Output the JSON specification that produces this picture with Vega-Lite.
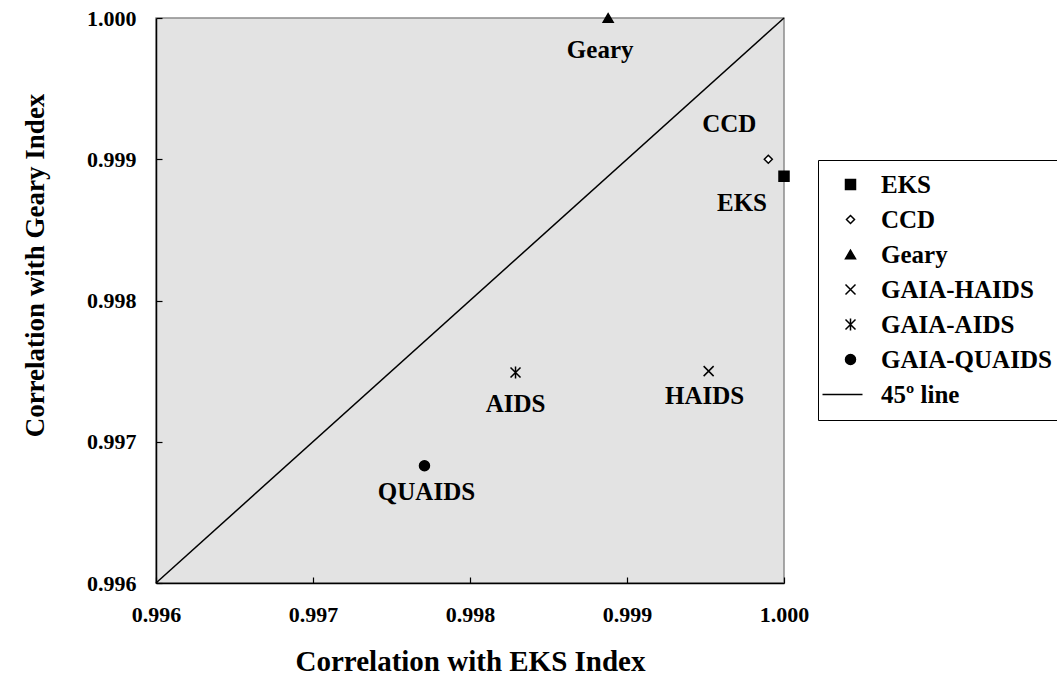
{
  "$schema": "https://vega.github.io/schema/vega-lite/v6.json",
  "width": 628,
  "height": 565,
  "autosize": "none",
  "padding": {"left": 156, "top": 18, "right": 273, "bottom": 94},
  "background": "white",
  "config": {
    "view": {"fill": "#e3e3e3", "stroke": "#8c8c8c", "strokeWidth": 1.5},
    "font": "Liberation Serif",
    "axis": {
      "labelFont": "Liberation Serif", "labelFontWeight": "bold", "labelFontSize": 22, "labelColor": "black",
      "titleFont": "Liberation Serif", "titleFontWeight": "bold", "titleColor": "black",
      "domainColor": "black", "domainWidth": 1.5, "tickColor": "black", "tickWidth": 1.2, "grid": false
    },
    "legend": {
      "title": null, "orient": "none", "legendX": 662, "legendY": 142, "strokeColor": "black", "fillColor": "white", "padding": 12,
      "labelFont": "Liberation Serif", "labelFontWeight": "bold", "labelFontSize": 25, "labelColor": "black", "labelLimit": 400,
      "symbolSize": 100, "symbolStrokeWidth": 1.5, "symbolStrokeColor": "black", "rowPadding": 9, "labelOffset": 18, "symbolOffset": 8
    }
  },
  "datasets": {
    "diag": [{"ex": 0.996, "gy": 0.996}, {"ex": 1.0, "gy": 1.0}],
    "pts": [
      {"series": "EKS", "label": "EKS", "ex": 1.0, "gy": 0.99888},
      {"series": "CCD", "label": "CCD", "ex": 0.9999, "gy": 0.999},
      {"series": "Geary", "label": "Geary", "ex": 0.99888, "gy": 1.0},
      {"series": "GAIA-HAIDS", "label": "HAIDS", "ex": 0.99952, "gy": 0.9975},
      {"series": "GAIA-AIDS", "label": "AIDS", "ex": 0.99829, "gy": 0.99749},
      {"series": "GAIA-QUAIDS", "label": "QUAIDS", "ex": 0.99771, "gy": 0.99683}
    ]
  },
  "encoding": {
    "x": {"field": "ex", "type": "quantitative",
      "scale": {"domain": [0.996, 1.0], "nice": false, "zero": false},
      "axis": {"title": "Correlation with EKS Index", "titleFontSize": 29, "values": [0.996, 0.997, 0.998, 0.999, 1.0], "format": ".3f",
        "tickSize": -6, "labelPadding": 27, "titleBaseline": "alphabetic", "titleY": 87, "labelFlush": false}},
    "y": {"field": "gy", "type": "quantitative",
      "scale": {"domain": [0.996, 1.0], "nice": false, "zero": false},
      "axis": {"title": "Correlation with Geary Index", "titleFontSize": 27, "values": [0.996, 0.997, 0.998, 0.999, 1.0], "format": ".3f",
        "tickSize": -6, "labelPadding": 26, "titleBaseline": "alphabetic", "titleX": -113, "titleY": 247, "titleAngle": -90, "titleAlign": "center", "labelFlush": false}}
  },
  "layer": [
    {"data": {"name": "diag"}, "mark": {"type": "line", "color": "black", "strokeWidth": 1.5}},
    {"data": {"name": "pts"},
      "mark": {"type": "point", "filled": true, "size": 100, "strokeWidth": 1.5, "opacity": 1},
      "encoding": {
        "shape": {"field": "series", "type": "nominal",
          "scale": {"domain": ["EKS", "CCD", "Geary", "GAIA-HAIDS", "GAIA-AIDS", "GAIA-QUAIDS", "45º line"],
            "range": ["square", "M0,-0.8L0.8,0L0,0.8L-0.8,0Z", "triangle-up", "M-1,-1L1,1M-1,1L1,-1", "M-1,-1L1,1M-1,1L1,-1M0,-1.2L0,1.2", "circle", "M-5.6,0H2.4"]}},
        "fill": {"field": "series", "type": "nominal",
          "scale": {"domain": ["EKS", "CCD", "Geary", "GAIA-HAIDS", "GAIA-AIDS", "GAIA-QUAIDS", "45º line"],
            "range": ["black", "white", "black", "transparent", "transparent", "black", "transparent"]}},
        "stroke": {"field": "series", "type": "nominal",
          "scale": {"domain": ["EKS", "CCD", "Geary", "GAIA-HAIDS", "GAIA-AIDS", "GAIA-QUAIDS", "45º line"],
            "range": ["black", "black", "black", "black", "black", "black", "black"]}}
      }},
    {"data": {"name": "pts"}, "transform": [{"filter": "datum.label == 'Geary'"}],
      "mark": {"type": "text", "font": "Liberation Serif", "fontWeight": "bold", "fontSize": 25, "color": "black", "baseline": "middle", "align": "center", "dx": -8, "dy": 32},
      "encoding": {"text": {"field": "label"}}},
    {"data": {"name": "pts"}, "transform": [{"filter": "datum.label == 'CCD'"}],
      "mark": {"type": "text", "font": "Liberation Serif", "fontWeight": "bold", "fontSize": 25, "color": "black", "baseline": "middle", "align": "center", "dx": -39, "dy": -35},
      "encoding": {"text": {"field": "label"}}},
    {"data": {"name": "pts"}, "transform": [{"filter": "datum.label == 'EKS'"}],
      "mark": {"type": "text", "font": "Liberation Serif", "fontWeight": "bold", "fontSize": 25, "color": "black", "baseline": "middle", "align": "center", "dx": -42, "dy": 27},
      "encoding": {"text": {"field": "label"}}},
    {"data": {"name": "pts"}, "transform": [{"filter": "datum.label == 'HAIDS'"}],
      "mark": {"type": "text", "font": "Liberation Serif", "fontWeight": "bold", "fontSize": 25, "color": "black", "baseline": "middle", "align": "center", "dx": -4, "dy": 25},
      "encoding": {"text": {"field": "label"}}},
    {"data": {"name": "pts"}, "transform": [{"filter": "datum.label == 'AIDS'"}],
      "mark": {"type": "text", "font": "Liberation Serif", "fontWeight": "bold", "fontSize": 25, "color": "black", "baseline": "middle", "align": "center", "dx": 0, "dy": 31},
      "encoding": {"text": {"field": "label"}}},
    {"data": {"name": "pts"}, "transform": [{"filter": "datum.label == 'QUAIDS'"}],
      "mark": {"type": "text", "font": "Liberation Serif", "fontWeight": "bold", "fontSize": 25, "color": "black", "baseline": "middle", "align": "center", "dx": 2, "dy": 26},
      "encoding": {"text": {"field": "label"}}}
  ]
}
